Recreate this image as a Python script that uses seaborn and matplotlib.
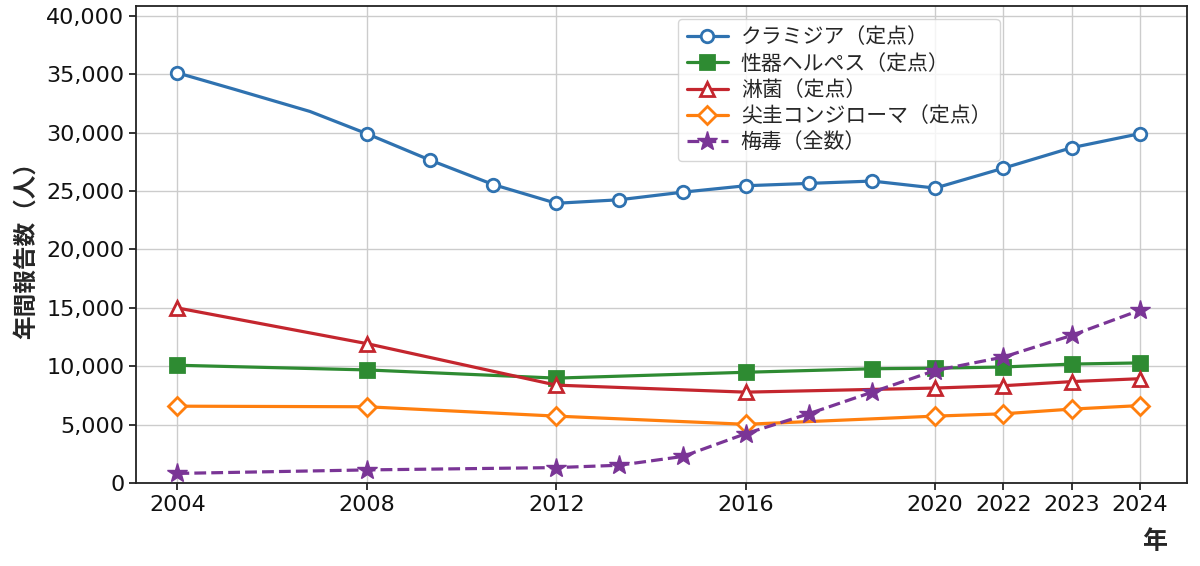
import matplotlib
matplotlib.use("Agg")
import numpy as np
import pandas as pd
import matplotlib.pyplot as plt
import matplotlib.ticker as mticker
import seaborn as sns

# --- data ---
TICK_YEARS = [2004, 2008, 2012, 2016, 2020, 2022, 2023, 2024]

chl_years = [2004, 2005.2, 2006.8, 2008, 2009.33, 2010.67, 2012, 2013.33,
             2014.67, 2016, 2017.33, 2018.67, 2020, 2022, 2023, 2024]
chl_vals = [35100, 33700, 31800, 29900, 27650, 25550, 23950, 24250,
            24900, 25450, 25650, 25850, 25250, 26950, 28700, 29900]

herpes_years = [2004, 2008, 2012, 2016, 2018.67, 2020, 2022, 2023, 2024]
herpes_vals = [10100, 9700, 9000, 9500, 9800, 9850, 9950, 10200, 10300]

gono_years = [2004, 2008, 2012, 2016, 2020, 2022, 2023, 2024]
gono_vals = [15000, 11950, 8400, 7800, 8150, 8350, 8700, 8950]

condy_years = [2004, 2008, 2012, 2016, 2020, 2022, 2023, 2024]
condy_vals = [6600, 6550, 5750, 5050, 5750, 5950, 6350, 6650]

syph_years = [2004, 2008, 2012, 2013.33, 2014.67, 2016, 2017.33, 2018.67,
              2020, 2022, 2023, 2024]
syph_vals = [850, 1150, 1350, 1550, 2300, 4250, 5950, 7800,
             9650, 10800, 12650, 14800]

LABELS = ["クラミジア（定点）", "性器ヘルペス（定点）", "淋菌（定点）",
          "尖圭コンジローマ（定点）", "梅毒（全数）"]

BLUE = "#2f72b0"
GREEN = "#2e8b32"
RED = "#c4262e"
ORANGE = "#ff7f0e"
PURPLE = "#7a3596"

sns.set_theme(style="ticks")
plt.rcParams["font.family"] = ["DejaVu Sans", "Noto Sans CJK JP"]

fig = plt.figure(figsize=(12, 5.66), dpi=100)
ax = fig.add_axes([0.1135, 0.146, 0.8755, 0.843])

common = dict(lw=2.3, markersize=9, markeredgewidth=2.0, ax=ax)

sns.lineplot(x=chl_years, y=chl_vals, color=BLUE, marker="o",
             markerfacecolor="white", markeredgecolor=BLUE, label=LABELS[0],
             markevery=[0] + list(range(3, len(chl_years))), **common)
sns.lineplot(x=herpes_years, y=herpes_vals, color=GREEN, marker="s",
             markerfacecolor=GREEN, markeredgecolor=GREEN, label=LABELS[1],
             **dict(common, markersize=10))
sns.lineplot(x=gono_years, y=gono_vals, color=RED, marker="^",
             markerfacecolor="white", markeredgecolor=RED, label=LABELS[2],
             **dict(common, markersize=10))
sns.lineplot(x=condy_years, y=condy_vals, color=ORANGE, marker="D",
             markerfacecolor="white", markeredgecolor=ORANGE, label=LABELS[3],
             **dict(common, markersize=9))
sns.lineplot(x=syph_years, y=syph_vals, color=PURPLE, marker="*",
             markerfacecolor=PURPLE, markeredgecolor=PURPLE, label=LABELS[4],
             linestyle="--", **dict(common, markersize=15, markeredgewidth=1))

# squeezed scale after 2020, as in the reference
anchor_y = [2000, 2004, 2020, 2022, 2028]
anchor_p = [-4, 0, 16, 17.44, 17.44 + 6 * 1.44]
ax.set_xscale("function", functions=(
    lambda v: np.interp(v, anchor_y, anchor_p),
    lambda p: np.interp(p, anchor_p, anchor_y)))
ax.set_xlim(2003.13, 2024.69)
ax.set_xticks(TICK_YEARS)
ax.set_xticklabels([str(y) for y in TICK_YEARS])
ax.xaxis.set_minor_locator(mticker.NullLocator())

ax.set_ylim(0, 40800)
ax.set_yticks(range(0, 40001, 5000))
ax.yaxis.set_major_formatter(mticker.FuncFormatter(lambda v, p: f"{int(v):,}"))

ax.grid(True, color="#cccccc", linewidth=1)
ax.set_axisbelow(True)
for sp in ax.spines.values():
    sp.set_color("#222222")
    sp.set_linewidth(1.3)
ax.tick_params(labelsize=16, colors="#111111", length=5, width=1.2)

ax.set_xlabel("")
ax.set_ylabel("年間報告数（人）", fontsize=17, fontweight="bold", labelpad=6)
fig.text(1155 / 1200, 1 - 542 / 566, "年", ha="center", va="center",
         fontsize=18, fontweight="bold")

ax.legend(loc="upper left", bbox_to_anchor=(0.516, 0.973), borderaxespad=0,
          fontsize=15, framealpha=0.8, handlelength=2.0, labelspacing=0.3,
          borderpad=0.4, handletextpad=0.6)

fig.savefig("out.png", dpi=100)
